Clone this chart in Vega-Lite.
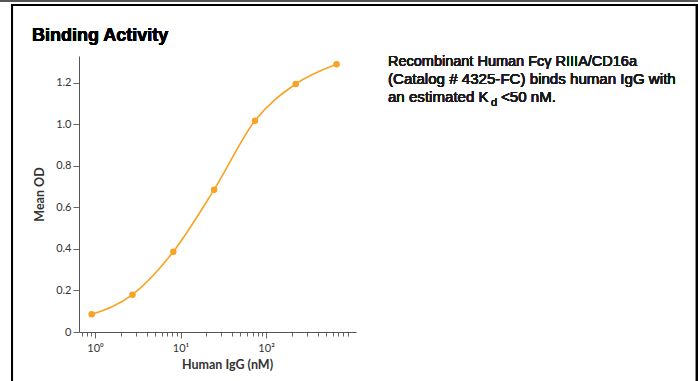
{
  "$schema": "https://vega.github.io/schema/vega-lite/v6.json",
  "autosize": "none",
  "width": 277,
  "height": 276,
  "padding": {"left": 79, "top": 56, "right": 342, "bottom": 49},
  "background": "white",
  "config": {"view": {"stroke": null}},
  "data": {
    "values": [
      {"conc": 0.914, "od": 0.085},
      {"conc": 2.743, "od": 0.18},
      {"conc": 8.23, "od": 0.387},
      {"conc": 24.69, "od": 0.686},
      {"conc": 74.07, "od": 1.018},
      {"conc": 222.2, "od": 1.195},
      {"conc": 666.7, "od": 1.29}
    ]
  },
  "layer": [
    {
      "mark": {"type": "line", "interpolate": "monotone", "color": "#F7A325", "strokeWidth": 1.6},
      "encoding": {
        "x": {
          "field": "conc", "type": "quantitative",
          "scale": {"type": "log", "domain": [0.65, 1125], "nice": false},
          "axis": {
            "title": "Human IgG (nM)",
            "values": [0.7, 0.8, 0.9, 1, 2, 3, 4, 5, 6, 7, 8, 9, 10, 20, 30, 40, 50, 60, 70, 80, 90, 100, 200, 300, 400, 500, 600, 700, 800, 900],
            "labelExpr": "datum.value == 1 ? '10⁰' : datum.value == 10 ? '10¹' : datum.value == 100 ? '10²' : ''",
            "tickSize": {"condition": {"test": "datum.value == 1 || datum.value == 10 || datum.value == 100", "value": 6}, "value": 4},
            "grid": false,
            "domainColor": "#555555",
            "tickColor": "#666666",
            "labelColor": "#333333",
            "labelFont": "Lato",
            "labelFontSize": 11,
            "labelPadding": 4,
            "labelFlush": false,
            "labelOverlap": false,
            "titleFont": "Lato",
            "titleFontSize": 12.5,
            "titleFontWeight": "bold",
            "titleColor": "#333333",
            "titlePadding": 5,
            "titleX": 148
          }
        },
        "y": {
          "field": "od", "type": "quantitative",
          "scale": {"domain": [0, 1.33], "nice": false, "zero": true},
          "axis": {
            "title": "Mean OD",
            "values": [0, 0.2, 0.4, 0.6, 0.8, 1.0, 1.2],
            "labelExpr": "datum.value == 0 ? '0' : format(datum.value, '.1f')",
            "grid": false,
            "tickSize": 6,
            "domainColor": "#555555",
            "tickColor": "#666666",
            "labelColor": "#333333",
            "labelFont": "Lato",
            "labelFontSize": 11,
            "labelPadding": 2,
            "titleFont": "Lato",
            "titleFontSize": 12.5,
            "titleFontWeight": "bold",
            "titleColor": "#333333",
            "titlePadding": 9
          }
        }
      }
    },
    {
      "mark": {"type": "point", "filled": true, "opacity": 1, "color": "#F7A325", "size": 42},
      "encoding": {
        "x": {"field": "conc", "type": "quantitative"},
        "y": {"field": "od", "type": "quantitative"}
      }
    },
    {
      "mark": {"type": "text", "align": "left", "baseline": "alphabetic", "font": "Liberation Sans", "fontSize": 18, "fontWeight": "bold", "color": "#000000"},
      "encoding": {
        "x": {"datum": 0.1834, "type": "quantitative"},
        "y": {"datum": 1.4023, "type": "quantitative"},
        "text": {"value": "Binding Activity"}
      }
    },
    {
      "mark": {"type": "text", "align": "left", "baseline": "alphabetic", "font": "Liberation Sans", "fontSize": 14.5, "color": "#1a1a1a"},
      "encoding": {
        "x": {"datum": 2659, "type": "quantitative"},
        "y": {"datum": 1.2818, "type": "quantitative"},
        "text": {"value": "Recombinant Human Fcγ RIIIA/CD16a"}
      }
    },
    {
      "mark": {"type": "text", "align": "left", "baseline": "alphabetic", "font": "Liberation Sans", "fontSize": 15.1, "color": "#1a1a1a"},
      "encoding": {
        "x": {"datum": 2659, "type": "quantitative"},
        "y": {"datum": 1.1951, "type": "quantitative"},
        "text": {"value": "(Catalog # 4325-FC) binds human IgG with"}
      }
    },
    {
      "mark": {"type": "text", "align": "left", "baseline": "alphabetic", "font": "Liberation Sans", "fontSize": 15.1, "color": "#1a1a1a"},
      "encoding": {
        "x": {"datum": 2659, "type": "quantitative"},
        "y": {"datum": 1.1083, "type": "quantitative"},
        "text": {"value": "an estimated K"}
      }
    },
    {
      "mark": {"type": "text", "align": "left", "baseline": "alphabetic", "font": "Liberation Sans", "fontSize": 11, "color": "#1a1a1a"},
      "encoding": {
        "x": {"datum": 42540, "type": "quantitative"},
        "y": {"datum": 1.088, "type": "quantitative"},
        "text": {"value": "d"}
      }
    },
    {
      "mark": {"type": "text", "align": "left", "baseline": "alphabetic", "font": "Liberation Sans", "fontSize": 15.1, "color": "#1a1a1a"},
      "encoding": {
        "x": {"datum": 55680, "type": "quantitative"},
        "y": {"datum": 1.1083, "type": "quantitative"},
        "text": {"value": "<50 nM."}
      }
    },
    {
      "mark": {"type": "rect", "fill": null, "stroke": "#000000", "strokeWidth": 2},
      "encoding": {
        "x": {"datum": 0.1071, "type": "quantitative"},
        "x2": {"datum": 10880000},
        "y": {"datum": 1.5757, "type": "quantitative"},
        "y2": {"datum": -0.5}
      }
    },
    {
      "mark": {"type": "rule", "stroke": "#555555", "strokeWidth": 2},
      "encoding": {
        "x": {"datum": 0.001, "type": "quantitative"},
        "x2": {"datum": 100000000},
        "y": {"datum": 1.595, "type": "quantitative"}
      }
    }
  ]
}
